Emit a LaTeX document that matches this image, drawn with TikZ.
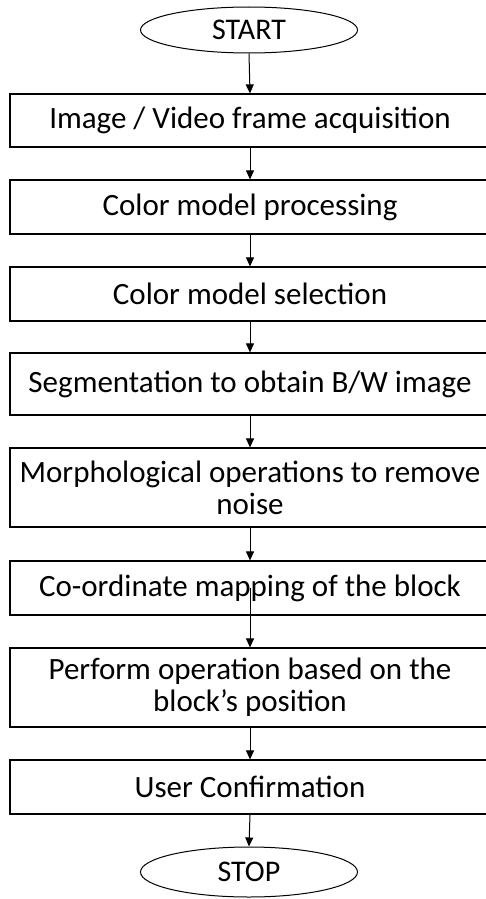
\documentclass[tikz,border=0pt]{standalone}
\usepackage{fontspec}
\setmainfont{Carlito}
\usetikzlibrary{shapes.geometric,arrows.meta}

\begin{document}
\begin{tikzpicture}[x=1pt,y=-1pt,
    blk/.style={draw,line width=1.2pt,rectangle,minimum width=480pt,inner sep=0pt,align=center,font=\fontsize{31}{32}\selectfont},
    term/.style={draw,line width=1pt,ellipse,minimum width=217pt,inner sep=0pt,font=\fontsize{30}{32}\selectfont},
    arr/.style={-{Triangle[width=8pt,length=9pt]},line width=1pt}]
                        \clip (0,0) rectangle (486,899);
                        \fill[white] (0,0) rectangle (486,899);

                        \node[term,minimum height=46pt] (start) at (249,30) {START};
                        \node[blk,minimum height=53pt] (b1) at (250,120.5) {Image / Video frame acquisition};
                        \node[blk,minimum height=54pt] (b2) at (250,207) {Color model processing};
                        \node[blk,minimum height=54pt] (b3) at (250,294) {Color model selection};
                        \node[blk,minimum height=62pt] (b4) at (250,384) {Segmentation to obtain B/W image};
                        \node[blk,minimum height=79pt] (b5) at (250,487.5) {Morphological operations to remove\\noise};
                        \node[blk,minimum height=54pt] (b6) at (250,588) {Co-ordinate mapping of the block};
                        \node[blk,minimum height=79pt] (b7) at (250,687.5) {Perform operation based on the\\block’s position};
                        \node[blk,minimum height=54pt] (b8) at (250,787) {User Confirmation};
                        \node[term,minimum height=50pt] (stop) at (249,872) {STOP};

                        \draw[arr] (start.south) -- (b1.north);
                        \draw[arr] (b1) -- (b2);
                        \draw[arr] (b2) -- (b3);
                        \draw[arr] (b3) -- (b4);
                        \draw[arr] (b4) -- (b5);
                        \draw[arr] (b5) -- (b6);
                        \draw[arr] (b6.center) -- (b7.north);
                        \draw[arr] (b7) -- (b8);
                        \draw[arr] (b8.south) -- (stop.north);
                    \end{tikzpicture}
\end{document}
